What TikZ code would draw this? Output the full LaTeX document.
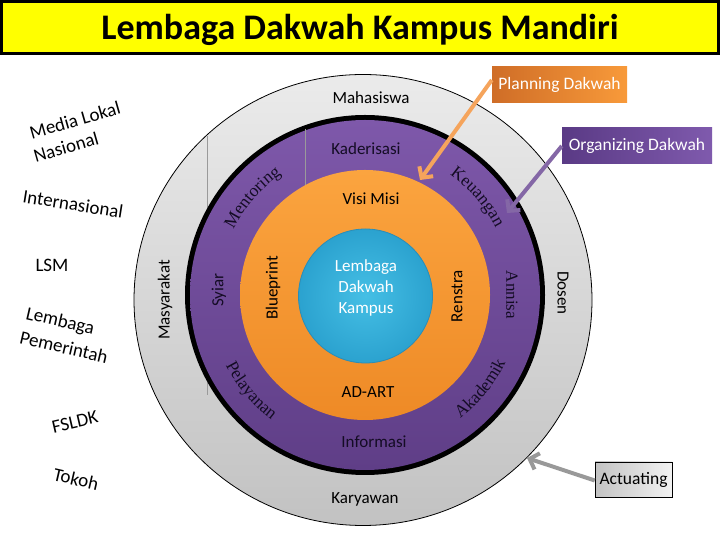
\documentclass[tikz,border=0pt]{standalone}
\usepackage{fontspec}
\setmainfont{Carlito}
\newfontfamily\serifw{Liberation Serif}
\usetikzlibrary{calc,arrows.meta,decorations.text,shadings}
\definecolor{ttlyellow}{HTML}{FFFF00}
\definecolor{grayTop}{HTML}{EBEBEB}
\definecolor{grayBot}{HTML}{C2C2C2}
\definecolor{purpTop}{HTML}{7E58AA}
\definecolor{purpBot}{HTML}{5F3E87}
\definecolor{purpText}{HTML}{140C24}
\definecolor{orTop}{HTML}{FBA43F}
\definecolor{orBot}{HTML}{EE8A26}
\definecolor{blueIn}{HTML}{45BFE5}
\definecolor{blueOut}{HTML}{2BA2CF}
\definecolor{blueEdge}{HTML}{2A8DB8}
\definecolor{planL}{HTML}{CF6D27}
\definecolor{planR}{HTML}{F89A3A}
\definecolor{orgL}{HTML}{5A3A85}
\definecolor{orgR}{HTML}{7F5AAD}
\definecolor{planArrow}{HTML}{F5A45C}
\definecolor{orgArrow}{HTML}{8467A6}
\definecolor{actArrow}{HTML}{999999}
\definecolor{segLine}{HTML}{9A9A9A}
\tikzset{
  lbl/.style={font=\fontsize{17}{17}\selectfont, text=black, inner sep=0pt},
  plbl/.style={lbl, text=purpText},
  outerlbl/.style={font=\fontsize{19}{19}\selectfont, text=black, inner sep=0pt},
  boxlbl/.style={minimum height=36pt, inner sep=0pt, text=white, font=\fontsize{17.5}{17.5}\selectfont},
  arr/.style={line width=4pt, -{Straight Barb[length=8pt,width=17pt]}},
  segline/.style={draw=segLine, line width=0.6pt},
}
\begin{document}
\begin{tikzpicture}[x=1pt,y=1pt]
\useasboundingbox (0,0) rectangle (720,540);
\fill[white] (0,0) rectangle (720,540);
% title bar
\draw[fill=ttlyellow, draw=black, line width=3pt] (1.5,538.5) rectangle (718.5,486);
\node[inner sep=0pt, font=\bfseries\fontsize{36}{36}\selectfont] (title) at (360,510) {Lembaga Dakwah Kampus Mandiri};

% circles
\coordinate (G) at (363,240);
\coordinate (C) at (365,245);
\shade[top color=grayTop, bottom color=grayBot] (G) ellipse[x radius=229, y radius=225.5];
\draw[black, line width=0.8pt] (G) ellipse[x radius=229, y radius=225.5];
\draw[segline] (207,404) -- (207,320);
\draw[segline] (207,158) -- (207,145);
\fill[black] (C) circle[radius=180];
\shade[top color=purpTop, bottom color=purpBot] (C) circle[radius=175];
\draw[segline] (305,411) -- (305,350);
\shade[top color=orTop, bottom color=orBot] (C) circle[radius=125];
\shade[inner color=blueIn, outer color=blueOut] (365.5,244) circle[radius=67];
\draw[blueEdge, line width=0.8pt] (365.5,244) circle[radius=67];

% gray ring labels
\node[lbl] (mahasiswa) at (371,442.5) {Mahasiswa};
\node[lbl] (karyawan) at (365,41) {Karyawan};
\node[lbl, rotate=90] (masyarakat) at (165,240) {Masyarakat};
\node[lbl, rotate=-90] (dosen) at (563,247) {Dosen};

% purple ring labels
\node[plbl] (kaderisasi) at (366,391) {Kaderisasi};
\node[plbl] (informasi) at (374,98) {Informasi};
\node[plbl, rotate=90] (syiar) at (219,250) {Syiar};
\node[plbl, rotate=-90, font=\serifw\fontsize{17}{17}\selectfont] (annisa) at (512,245) {Annisa};
\path[decorate, decoration={text along path, text align=center,
  text={|\serifw\fontsize{17.5}{17.5}\selectfont\color{purpText}|Mentoring}}]
  ($(C)+(162:147)$) arc[start angle=162, end angle=116, radius=147];
\path[decorate, decoration={text along path, text align=center,
  text={|\serifw\fontsize{17.5}{17.5}\selectfont\color{purpText}|Keuangan}}]
  ($(C)+(64:147)$) arc[start angle=64, end angle=18, radius=147];
\path[decorate, decoration={text along path, text align=center,
  text={|\serifw\fontsize{17.5}{17.5}\selectfont\color{purpText}|Pelayanan}}]
  ($(C)+(196:156)$) arc[start angle=196, end angle=244, radius=156];
\path[decorate, decoration={text along path, text align=center,
  text={|\serifw\fontsize{17.5}{17.5}\selectfont\color{purpText}|Akademik}}]
  ($(C)+(-63:156)$) arc[start angle=-63, end angle=-15, radius=156];

% orange ring labels
\node[lbl] (visimisi) at (371,341) {Visi Misi};
\node[lbl] (adart) at (368,147.5) {AD-ART};
\node[lbl, rotate=90] (blueprint) at (273,252) {Blueprint};
\node[lbl, rotate=90] (renstra) at (457,244) {Renstra};

% centre
\node[inner sep=0pt, align=center, text=white, font=\fontsize{17}{21}\selectfont] (ldk) at (366,252.5) {Lembaga\\Dakwah\\Kampus};

% outer labels
\node[outerlbl, rotate=16] (medialokal) at (75,420) {Media Lokal};
\node[outerlbl, rotate=16] (nasional) at (66,393) {Nasional};
\node[outerlbl, rotate=-9] (internasional) at (73,336) {Internasional};
\node[outerlbl] (lsm) at (52,275) {LSM};
\node[outerlbl, rotate=-13] (lembaga) at (60,218) {Lembaga};
\node[outerlbl, rotate=-13] (pemerintah) at (64,193) {Pemerintah};
\node[outerlbl, rotate=13] (fsldk) at (75,118) {FSLDK};
\node[outerlbl, rotate=-13] (tokoh) at (76,61) {Tokoh};

% management boxes
\node[boxlbl, minimum width=135pt, left color=planL, right color=planR] (planning) at (559.5,455) {Planning Dakwah};
\node[boxlbl, minimum width=150pt, left color=orgL, right color=orgR] (organizing) at (637,394) {Organizing Dakwah};
\node[boxlbl, minimum width=77pt, minimum height=35pt, text=black, draw=black, line width=0.6pt,
  left color=grayBot, right color=white!95!black] (actuating) at (633.5,60.5) {Actuating};

\coordinate (planTip) at (420,360);
\coordinate (orgTip) at (507,327);
\coordinate (actTip) at (527,82);
\draw[arr, planArrow] ([yshift=5pt]planning.west) -- (planTip);
\draw[arr, orgArrow] (organizing.west) -- (orgTip);
\draw[arr, actArrow] ([yshift=-1pt]actuating.west) -- (actTip);
\end{tikzpicture}
\end{document}
